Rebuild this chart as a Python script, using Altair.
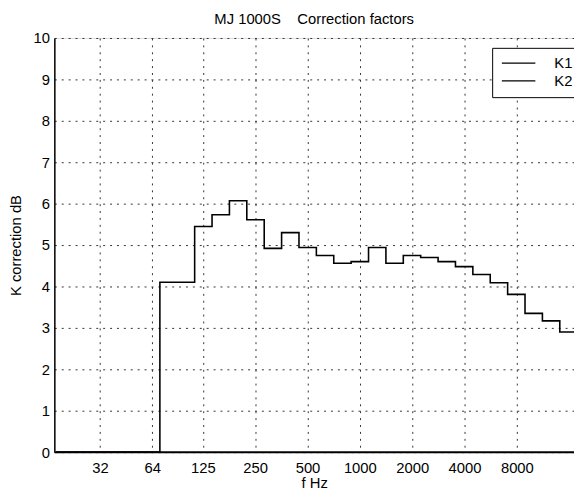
import altair as alt
import pandas as pd
import numpy as np

# one-third-octave band centres (Hz)
bands = [20, 25, 31.5, 40, 50, 63, 80, 100, 125, 160, 200, 250, 315, 400, 500,
         630, 800, 1000, 1250, 1600, 2000, 2500, 3150, 4000, 5000, 6300, 8000,
         10000, 12500, 16000]
# correction values (dB)
k1 = [0, 0, 0, 0, 0, 0, 4.10, 4.10, 5.45, 5.73, 6.07, 5.61, 4.92, 5.30, 4.94,
      4.75, 4.56, 4.60, 4.94, 4.56, 4.75, 4.70, 4.60, 4.48, 4.29, 4.09, 3.81,
      3.35, 3.17, 2.90]
k2 = [0, 0, 0, 0, 0, 0, 0, 0, 0, 0, 0, 0, 0, 0, 0,
      0, 0, 0, 0, 0, 0, 0, 0, 0, 0, 0, 0, 0, 0, 0]
series_names = ["K1", "K2"]
x_ticks = [32, 64, 125, 250, 500, 1000, 2000, 4000, 8000]
y_ticks = [0, 1, 2, 3, 4, 5, 6, 7, 8, 9, 10]

FONT = "Liberation Sans"

rows = []
for name, vals in zip(series_names, [k1, k2]):
    for i, (f, v) in enumerate(zip(bands, vals)):
        n = round(10 * np.log10(f / 1000.0))
        lo = 1000 * 10 ** ((n - 0.5) / 10)
        hi = 1000 * 10 ** ((n + 0.5) / 10)
        rows.append({"series": name, "f": lo, "k": v, "order": 2 * i})
        if i == len(bands) - 1:
            rows.append({"series": name, "f": hi, "k": v, "order": 2 * i + 1})
df = pd.DataFrame(rows)

chart = alt.Chart(df).mark_line(
    interpolate="step-after", clip=True, strokeWidth=1.6
).encode(
    x=alt.X("f:Q",
            scale=alt.Scale(type="log", domain=[17.5, 17050], nice=False),
            axis=alt.Axis(values=x_ticks, format="d", title="f Hz",
                          grid=True, gridDash=[2, 5], gridColor="#333",
                          gridWidth=1, ticks=False, labelPadding=9,
                          labelFont=FONT, labelFontSize=15, labelColor="black",
                          titleFont=FONT, titleFontSize=15, titleFontWeight="normal",
                          titleColor="black", titlePadding=0,
                          domainColor="black", domainWidth=1.5,
                          labelFlush=False)),
    y=alt.Y("k:Q",
            scale=alt.Scale(domain=[0, 10], nice=False),
            axis=alt.Axis(values=y_ticks, title="K correction dB",
                          grid=True, gridDash=[2, 5], gridColor="#333",
                          gridWidth=1, ticks=False, labelPadding=5,
                          labelFont=FONT, labelFontSize=15, labelColor="black",
                          titleFont=FONT, titleFontSize=15, titleFontWeight="normal",
                          titleColor="black", titlePadding=10,
                          domainColor="black", domainWidth=1.5,
                          labelFlush=False)),
    color=alt.Color("series:N",
                    scale=alt.Scale(domain=series_names, range=["black", "black"]),
                    legend=alt.Legend(title=None, orient="none",
                                      legendX=444, legendY=10,
                                      symbolType="M-1,0H5", symbolSize=128,
                                      symbolStrokeWidth=1.5,
                                      labelFont=FONT, labelFontSize=15,
                                      labelColor="black", labelOffset=40,
                                      rowPadding=2, padding=8,
                                      strokeColor="black", fillColor="white")),
    order="order:Q",
).properties(
    width=527,
    height=420,
    title=alt.TitleParams("MJ 1000S\u00a0\u00a0\u00a0 Correction factors",
                          font=FONT, fontSize=15, fontWeight="normal",
                          color="black", anchor="middle", offset=4),
    autosize=alt.AutoSizeParams(type="none"),
    padding={"left": 47, "top": 27, "right": 0, "bottom": 36},
).configure_view(
    stroke="#555", strokeDash=[3, 2], strokeWidth=1
).configure(background="white")

chart.save("out.html", embed_options={"renderer": "svg", "actions": False})
